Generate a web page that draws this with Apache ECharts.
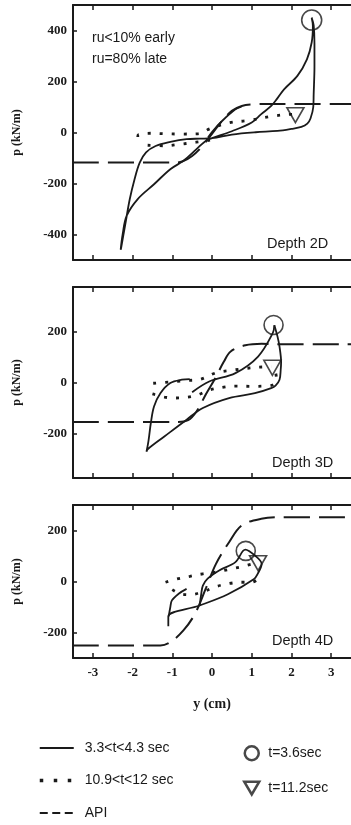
<!DOCTYPE html>
<html><head><meta charset="utf-8">
<script src="https://cdn.jsdelivr.net/npm/echarts@6/dist/echarts.min.js"></script>
<style>html,body{margin:0;padding:0;background:#fff}#c{width:351px;height:825px}</style>
</head><body><div id="c"></div>
<script>
// ---------- tick labels ----------
const xTicks = [-3, -2, -1, 0, 1, 2, 3];
const yTicks2D = [-400, -200, 0, 200, 400];
const yTicks3D = [-200, 0, 200];
const yTicks4D = [-200, 0, 200];

// ---------- Depth 2D ----------
const solid2D_loop = [[2.51,450],[2.56,420],[2.58,350],[2.58,260],[2.56,150],[2.55,100],[2.48,55],[2.4,35],[2.25,22],[2.0,14],[1.65,6],[1.1,1],[0.5,-8],[0.0,-22],[-0.3,-24],[-0.64,-26],[-1.05,-37],[-1.42,-53],[-1.66,-78],[-1.82,-118],[-1.95,-183],[-2.07,-261],[-2.19,-366],[-2.28,-445],[-2.3,-460],[-2.25,-400],[-2.15,-327],[-1.87,-261],[-1.46,-203],[-1.05,-144],[-0.72,-111],[-0.39,-65],[-0.15,-32],[0.0,-22],[0.5,5],[1.0,39],[1.24,72],[1.49,104],[1.65,135],[1.82,170],[2.15,222],[2.39,287],[2.51,353],[2.54,418],[2.51,450]];
const solid2D_arc = [[-0.1,-20],[0.0,2],[0.26,46],[0.59,91],[0.74,101]];
const dot2D_upper = [[-1.87,-18],[-1.85,-8],[-1.54,-3],[-1.2,-5],[-0.8,-6],[-0.35,-5],[-0.05,15],[0.43,38],[0.91,47],[1.49,63],[1.85,70],[2.15,72]];
const dot2D_lower = [[-1.62,-50],[-1.2,-52],[-0.8,-46],[-0.5,-40],[-0.3,-36],[-0.05,-30]];
const api2D = [[-3.5,-118],[-1.0,-118],[-0.75,-114],[-0.5,-92],[-0.25,-55],[0.0,-5],[0.25,45],[0.5,85],[0.75,104],[1.0,110],[1.5,112],[3.5,112]];
const circle2D = [[2.51,441]];
const tri2D = [[2.1,68]];

// ---------- Depth 3D ----------
const solid3D_loop = [[1.57,225],[1.65,180],[1.7,141],[1.74,80],[1.73,50],[1.7,11],[1.6,-12],[1.49,-22],[1.08,-42],[0.43,-61],[-0.23,-100],[-0.64,-146],[-1.2,-212],[-1.62,-262],[-1.65,-272],[-1.6,-230],[-1.54,-159],[-1.46,-94],[-1.3,-42],[-1.05,-2],[-0.76,11],[-0.56,13]];
const solid3D_rise = [[-0.5,-38],[-0.07,4],[0.59,37],[1.16,102],[1.53,194],[1.57,225]];
const dot3D_upper = [[-1.48,-3],[-1.2,0],[-0.88,4],[-0.6,8],[-0.3,12],[0.1,38],[0.5,48],[0.84,55],[1.16,60],[1.5,62]];
const dot3D_lower = [[-1.5,-45],[-1.2,-57],[-0.97,-61],[-0.64,-58],[-0.35,-48],[-0.07,-30],[0.3,-18],[0.6,-14],[1.0,-15],[1.3,-14],[1.55,-8],[1.62,20],[1.58,50]];
const api3D = [[-3.5,-155],[-0.9,-155],[-0.6,-148],[-0.39,-114],[-0.15,-45],[0.06,11],[0.3,82],[0.47,122],[0.84,146],[1.25,152],[1.6,150],[3.5,150]];
const circle3D = [[1.55,226]];
const tri3D = [[1.52,58]];

// ---------- Depth 4D ----------
const solid4D_loop = [[-1.1,-175],[-1.1,-137],[-0.31,-94],[0.4,-50],[1.06,10],[1.15,30],[1.25,69],[1.08,102],[0.84,125],[0.59,76],[0.18,43],[-0.11,11],[-0.23,-16],[-0.27,-48],[-0.31,-94]];
const solid4D_arc = [[-1.09,-137],[-1.05,-101],[-1.01,-74],[-0.84,-48],[-0.64,-29]];
const dot4D_upper = [[-1.17,-3],[-0.88,10],[-0.56,20],[-0.23,30],[0.1,37],[0.45,48],[0.75,58],[1.0,68]];
const dot4D_lower = [[-1.0,-32],[-0.8,-48],[-0.56,-52],[-0.23,-40],[0.1,-20],[0.43,-8],[0.75,-3],[1.0,-3],[1.2,15]];
const api4D = [[-3.5,-251],[-1.3,-251],[-1.05,-238],[-0.72,-192],[-0.43,-127],[-0.15,-25],[0.1,69],[0.43,154],[0.75,220],[1.24,246],[1.74,252],[3.5,252]];
const circle4D = [[0.85,120]];
const tri4D = [[1.16,72]];

const panelLabels = ['Depth 2D', 'Depth 3D', 'Depth 4D'];
const noteLines = ['ru<10% early', 'ru=80% late'];
const nameSolid = '3.3<t<4.3 sec', nameDot = '10.9<t<12 sec', nameApi = 'API';
const nameCircle = 't=3.6sec', nameTri = 't=11.2sec';

// ---------- build ----------
const INK = '#1a1a1a';
const SERIF = '"Liberation Serif", "DejaVu Serif", serif';
const SANS = '"Liberation Sans", Arial, sans-serif';
const grids = [
  {left: 73, top: 5, width: 285, height: 255},
  {left: 73, top: 287, width: 285, height: 191},
  {left: 73, top: 505, width: 285, height: 153}
];
const yRanges = [[-500, 500, yTicks2D], [-375, 375, yTicks3D], [-300, 300, yTicks4D]];

const xAxes = [], yAxes = [];
grids.forEach((g, i) => {
  ['bottom', 'top'].forEach(pos => {
    xAxes.push({
      type: 'value', gridIndex: i, position: pos, min: -3.5, max: 3.5,
      axisLine: {show: true, onZero: false, lineStyle: {color: INK, width: 2}},
      axisTick: {show: true, inside: true, length: 5, customValues: xTicks, lineStyle: {color: INK, width: 1.5}},
      axisLabel: {show: pos === 'bottom' && i === 2, customValues: xTicks, margin: 8,
        color: INK, fontFamily: SERIF, fontWeight: 'bold', fontSize: 13},
      splitLine: {show: false},
      name: (pos === 'bottom' && i === 2) ? 'y (cm)' : '',
      nameLocation: 'middle', nameGap: 39,
      nameTextStyle: {color: INK, fontFamily: SERIF, fontWeight: 'bold', fontSize: 14}
    });
  });
  const yr = yRanges[i];
  yAxes.push({
    type: 'value', gridIndex: i, min: yr[0], max: yr[1],
    axisLine: {show: true, onZero: false, lineStyle: {color: INK, width: 2}},
    axisTick: {show: true, inside: true, length: 4, customValues: yr[2], lineStyle: {color: INK, width: 1.5}},
    axisLabel: {customValues: yr[2], margin: 6, color: INK, fontFamily: SERIF, fontWeight: 'bold', fontSize: 13},
    splitLine: {show: false},
    name: 'p (kN/m)', nameLocation: 'middle', nameGap: 50, nameRotate: 90,
    nameTextStyle: {color: INK, fontFamily: SERIF, fontWeight: 'bold', fontSize: 12}
  });
});

const solidStyle = {color: INK, width: 1.8};
const dotStyle = {color: INK, width: 2.8, type: [3, 9]};
const apiStyle = {color: INK, width: 2, type: [26, 9]};
const triPath = 'path://M0,0 L20,0 L10,17 Z';

function lineS(name, data, gi, style) {
  return {name, type: 'line', data, xAxisIndex: gi * 2, yAxisIndex: gi, symbol: 'none',
    smooth: 0.35, lineStyle: style, itemStyle: {color: INK}, z: 3, silent: true};
}
function markS(name, data, gi, symbol, size) {
  return {name, type: 'scatter', data, xAxisIndex: gi * 2, yAxisIndex: gi, symbol, symbolSize: size,
    itemStyle: {color: 'rgba(0,0,0,0)', borderColor: INK, borderWidth: 1.6}, z: 4, silent: true};
}

const series = [
  lineS(nameSolid, solid2D_loop, 0, solidStyle),
  lineS(nameSolid, solid2D_arc, 0, solidStyle),
  lineS(nameDot, dot2D_upper, 0, dotStyle),
  lineS(nameDot, dot2D_lower, 0, dotStyle),
  lineS(nameApi, api2D, 0, apiStyle),
  markS(nameCircle, circle2D, 0, 'circle', 20),
  markS(nameTri, tri2D, 0, triPath, [17, 15]),

  lineS(nameSolid, solid3D_loop, 1, solidStyle),
  lineS(nameSolid, solid3D_rise, 1, solidStyle),
  lineS(nameDot, dot3D_upper, 1, dotStyle),
  lineS(nameDot, dot3D_lower, 1, dotStyle),
  lineS(nameApi, api3D, 1, apiStyle),
  markS(nameCircle, circle3D, 1, 'circle', 19),
  markS(nameTri, tri3D, 1, triPath, [17, 15]),

  lineS(nameSolid, solid4D_loop, 2, solidStyle),
  lineS(nameSolid, solid4D_arc, 2, solidStyle),
  lineS(nameDot, dot4D_upper, 2, dotStyle),
  lineS(nameDot, dot4D_lower, 2, dotStyle),
  lineS(nameApi, api4D, 2, apiStyle),
  markS(nameCircle, circle4D, 2, 'circle', 19),
  markS(nameTri, tri4D, 2, triPath, [17, 15])
];

const graphic = [
  {type: 'text', left: 92, top: 31, style: {text: noteLines[0], font: '14px ' + SANS, fill: INK}},
  {type: 'text', left: 92, top: 52, style: {text: noteLines[1], font: '14px ' + SANS, fill: INK}},
  {type: 'text', left: 267, top: 236, style: {text: panelLabels[0], font: '14.5px ' + SANS, fill: INK}},
  {type: 'text', left: 272, top: 455, style: {text: panelLabels[1], font: '14.5px ' + SANS, fill: INK}},
  {type: 'text', left: 272, top: 633, style: {text: panelLabels[2], font: '14.5px ' + SANS, fill: INK}}
];

const hideSym = {opacity: 0};
const chart = echarts.init(document.getElementById('c'), null, {renderer: 'canvas'});
chart.setOption({
  backgroundColor: '#fff',
  animation: false,
  grid: grids,
  xAxis: xAxes,
  yAxis: yAxes,
  series,
  graphic,
  legend: [
    {orient: 'vertical', left: 38, top: 741, padding: 0, itemWidth: 34, itemHeight: 14, itemGap: 18.5, selectedMode: false,
     textStyle: {color: INK, fontFamily: SANS, fontSize: 14, padding: [0, 0, 0, 6]},
     data: [
       {name: nameSolid, itemStyle: hideSym, lineStyle: {width: 2, type: 'solid'}},
       {name: nameDot, itemStyle: hideSym, lineStyle: {width: 3.5, type: [3.5, 10.5]}},
       {name: nameApi, itemStyle: hideSym, lineStyle: {width: 2, type: [8, 4.5]}}
     ]},
    {orient: 'vertical', left: 243, top: 745, padding: 0, itemWidth: 15, itemHeight: 14, itemGap: 19, selectedMode: false,
     textStyle: {color: INK, fontFamily: SANS, fontSize: 14, padding: [0, 0, 0, 4]},
     data: [
       {name: nameCircle, itemStyle: {borderWidth: 2.5}},
       {name: nameTri, itemStyle: {borderWidth: 2.5}}
     ]}
  ]
});
</script></body></html>
